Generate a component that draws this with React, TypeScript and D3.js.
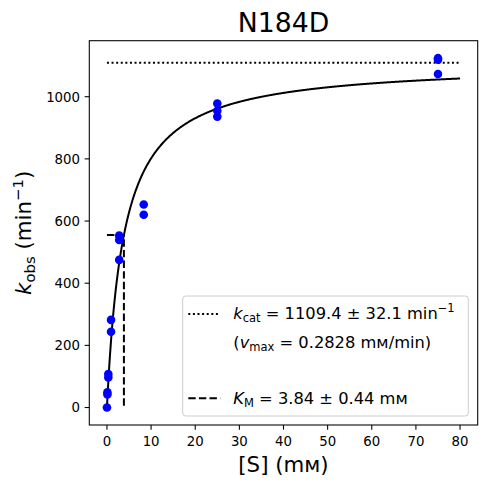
import * as d3 from "d3"

// substrate concentration (mM) and observed rates (min^-1)
const S_MM = [0, 0.103, 0.103, 0.309, 0.309, 0.926, 0.926, 2.778, 2.778, 2.778, 8.333, 8.333, 25, 25, 25, 75, 75, 75]
const K_OBS = [0, 42, 49, 97, 108, 244, 282, 475, 539, 553, 620, 653, 936, 955, 978, 1073, 1119, 1124]

// fitted Michaelis-Menten parameters
const KCAT = 1109.4
const KM = 3.84
const FIT_X = [0, 80]

const X_TICKS = [0, 10, 20, 30, 40, 50, 60, 70, 80]
const Y_TICKS = [0, 200, 400, 600, 800, 1000]

const W = 486
const H = 484
const LEFT = 89.3
const RIGHT = 477.7
const TOP = 40.7
const BOTTOM = 425
const FONT = "DejaVu Sans"

export default function App() {
  const x = d3.scaleLinear().domain([-4, 84]).range([LEFT, RIGHT])
  const yExt = d3.extent([...K_OBS, KCAT, 0]) as [number, number]
  const pad = (yExt[1] - yExt[0]) * 0.05
  const y = d3.scaleLinear().domain([yExt[0] - pad, yExt[1] + pad]).range([BOTTOM, TOP])

  const mm = (s: number) => (KCAT * s) / (KM + s)
  const xs = d3.range(FIT_X[0], FIT_X[1] + 0.0001, 0.1)
  const line = d3.line<number>().x((s) => x(s)).y((s) => y(mm(s)))

  const sub = { fontSize: 11.5 }
  const tick = 4.67

  return (
    <svg width={W} height={H} style={{ position: "absolute", left: 0, top: 0 }} fontFamily={FONT}>
      <rect width={W} height={H} fill="#fff" />
      <text x={(LEFT + RIGHT) / 2} y={31.7} fontSize={26.7} textAnchor="middle">N184D</text>

      {/* kcat and KM guide lines */}
      <line x1={x(0)} x2={x(80)} y1={y(KCAT)} y2={y(KCAT)} stroke="#000" strokeWidth={2} strokeDasharray="2,2.6" />
      <path
        d={`M${x(0)},${y(KCAT / 2)}H${x(KM)}V${y(0)}`}
        fill="none"
        stroke="#000"
        strokeWidth={2}
        strokeDasharray="7.4,3.2"
      />
      <path d={line(xs) ?? ""} fill="none" stroke="#000" strokeWidth={2} />

      {S_MM.map((s, i) => (
        <circle key={i} cx={x(s)} cy={y(K_OBS[i])} r={4.3} fill="#0000ff" />
      ))}

      {/* frame */}
      <rect x={LEFT} y={TOP} width={RIGHT - LEFT} height={BOTTOM - TOP} fill="none" stroke="#000" strokeWidth={1.07} />

      {X_TICKS.map((t) => (
        <g key={t}>
          <line x1={x(t)} x2={x(t)} y1={BOTTOM} y2={BOTTOM + tick} stroke="#000" strokeWidth={1.07} />
          <text x={x(t)} y={445.5} fontSize={13.3} textAnchor="middle">{t}</text>
        </g>
      ))}
      {Y_TICKS.map((t) => (
        <g key={t}>
          <line x1={LEFT - tick} x2={LEFT} y1={y(t)} y2={y(t)} stroke="#000" strokeWidth={1.07} />
          <text x={80} y={y(t) + 4.8} fontSize={13.3} textAnchor="end">{t}</text>
        </g>
      ))}

      <text x={(LEFT + RIGHT) / 2} y={472} fontSize={21.3} textAnchor="middle">[S] (m{"\u1D0D"})</text>
      <text transform={`translate(31,${(TOP + BOTTOM) / 2}) rotate(-90)`} fontSize={21.3} textAnchor="middle">
        <tspan fontStyle="italic">k</tspan>
        <tspan fontSize={14.9} dy={4.2}>obs</tspan>
        <tspan dy={-4.2}> (min</tspan>
        <tspan fontSize={14.9} dy={-8.5}>{"\u22121"}</tspan>
        <tspan dy={8.5}>)</tspan>
      </text>

      {/* legend */}
      <rect x={182.7} y={296} width={285.6} height={120} rx={3} fill="#fff" fillOpacity={0.8} stroke="#cccccc" strokeWidth={1} />
      <line x1={188.3} x2={220.3} y1={314} y2={314} stroke="#000" strokeWidth={2} strokeDasharray="2,2.6" />
      <text x={233.3} y={319} fontSize={16.3}>
        <tspan fontStyle="italic">k</tspan>
        <tspan {...sub} dy={3.2}>cat</tspan>
        <tspan dy={-3.2}> = 1109.4 ± 32.1 min</tspan>
        <tspan {...sub} dy={-6.8}>{"\u22121"}</tspan>
      </text>
      <text x={233.3} y={347.5} fontSize={16.3}>
        <tspan>(</tspan>
        <tspan fontStyle="italic">v</tspan>
        <tspan {...sub} dy={3.2}>max</tspan>
        <tspan dy={-3.2}> = 0.2828 m{"\u1D0D"}/min)</tspan>
      </text>
      <line x1={188.3} x2={220.3} y1={398.3} y2={398.3} stroke="#000" strokeWidth={2} strokeDasharray="7.4,3.2" />
      <text x={233.3} y={403.5} fontSize={16.3}>
        <tspan fontStyle="italic">K</tspan>
        <tspan {...sub} dy={3.2}>M</tspan>
        <tspan dy={-3.2}> = 3.84 ± 0.44 m{"\u1D0D"}</tspan>
      </text>
    </svg>
  )
}
